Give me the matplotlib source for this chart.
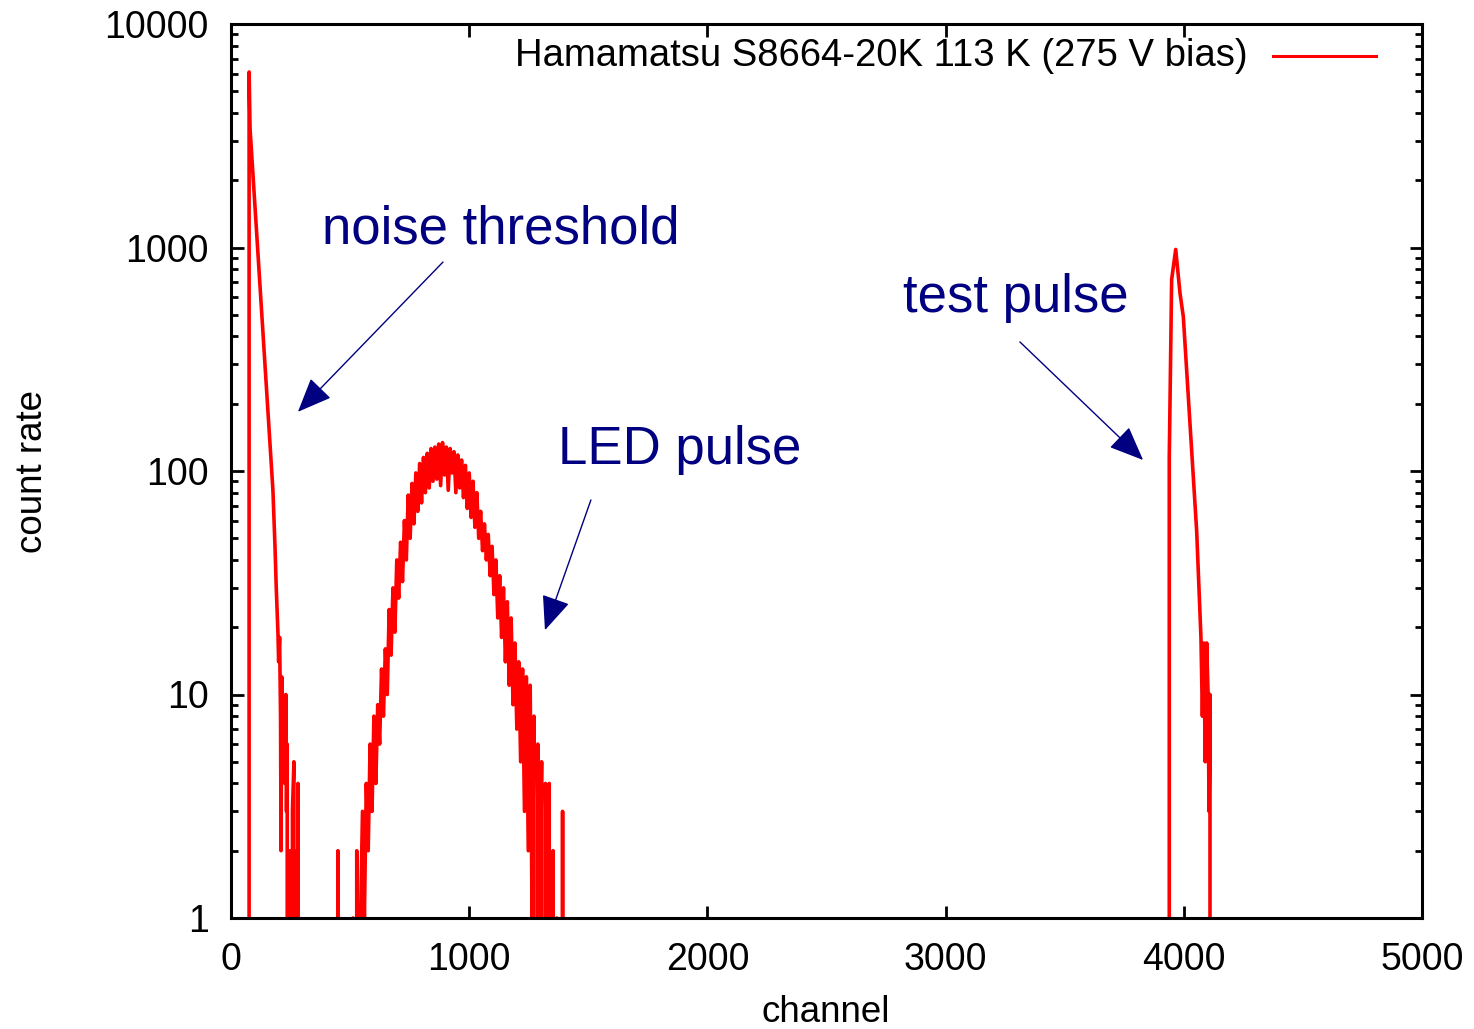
import numpy as np
import matplotlib
matplotlib.use("Agg")
import matplotlib.pyplot as plt
from matplotlib.ticker import LogLocator, NullFormatter

plt.rcParams['font.family'] = ['Liberation Sans', 'DejaVu Sans']

# MCA spectrum, Hamamatsu S8664-20K APD at 113 K
# noise edge + stray count near 450
noise_ch = [0, 60, 70, 76, 80, 176, 185, 190, 197, 200, 204, 208, 210, 213, 218,
            222, 226, 230, 233, 236, 239, 245, 250, 258, 264, 266, 270, 275, 281,
            284, 440, 449, 458]
noise_counts = [0, 0, 0, 6100, 3400, 82, 45, 30, 19, 14, 18, 8, 2, 12, 7,
                9, 4, 10, 3, 6, 0, 2, 0, 3, 5, 0, 2, 0, 4,
                0, 0, 2, 0]

# LED pulse, 8-channel bins from 504 to 1400
led_ch = list(range(504, 1408, 8))
led_counts = [0, 1, 0, 2, 0, 1, 3, 1, 4, 2,
              6, 3, 8, 4, 9, 6, 13, 8, 16, 10,
              24, 15, 30, 19, 40, 27, 48, 32, 60, 40,
              78, 50, 88, 58, 98, 66, 108, 72, 115, 80,
              120, 84, 126, 90, 128, 92, 132, 86, 134, 96,
              128, 82, 126, 98, 122, 80, 118, 84, 112, 76,
              106, 68, 98, 62, 90, 56, 80, 50, 66, 44,
              58, 40, 52, 34, 46, 28, 40, 22, 34, 18,
              30, 14, 26, 11, 22, 9, 17, 7, 14, 5,
              13, 3, 12, 2, 11, 1, 8, 0, 6, 1,
              5, 0, 4, 1, 4, 0, 2, 0, 1, 0,
              0, 3, 0]

# test pulse
test_ch = [3900, 3928, 3939, 3949, 3966, 3984, 3998, 4054, 4072, 4078, 4084,
           4090, 4096, 4102, 4106, 4110, 4116, 5000]
test_counts = [0, 0, 115, 720, 980, 625, 490, 54, 18, 8, 17,
               5, 17, 10, 3, 10, 0, 0]

channel = np.array(noise_ch + led_ch + test_ch, dtype=float)
counts = np.array(noise_counts + led_counts + test_counts, dtype=float)

navy = '#000080'

fig = plt.figure(figsize=(14.74, 10.29), dpi=100)
ax = fig.add_axes([231 / 1474, 111 / 1029, 1191 / 1474, 894 / 1029])

ax.plot(channel, counts, color='#ff0000', lw=2.6)
ax.set_yscale('log', nonpositive='clip')
ax.set_xlim(0, 5000)
ax.set_ylim(1, 10000)

ax.set_xticks([0, 1000, 2000, 3000, 4000, 5000])
ax.set_yticks([1, 10, 100, 1000, 10000])
ax.set_yticklabels(['1', '10', '100', '1000', '10000'])
ax.yaxis.set_minor_locator(LogLocator(base=10, subs=np.arange(2, 10)))
ax.yaxis.set_minor_formatter(NullFormatter())

for s in ax.spines.values():
    s.set_linewidth(2.2)
ax.tick_params(which='both', direction='in', top=True, right=True, width=2.0,
               labelsize=27, colors='black')
ax.tick_params(which='major', length=9)
ax.tick_params(which='minor', length=5)
ax.tick_params(axis='x', pad=17)
ax.tick_params(axis='y', pad=16)

fig.text(826 / 1474, 1 - 1013 / 1029, 'channel', fontsize=26.5,
         ha='center', va='center')
fig.text(33 / 1474, 1 - 472 / 1029, 'count rate', fontsize=26.5,
         rotation=90, ha='center', va='center')

# key, top right
ax.text(0.8539, 0.9642, 'Hamamatsu S8664-20K 113 K (275 V bias)',
        transform=ax.transAxes, fontsize=27.5, ha='right', va='center')
ax.plot([0.8749, 0.9614], [0.9642, 0.9642], transform=ax.transAxes,
        color='#ff0000', lw=2.2)

arrow = dict(arrowstyle='-|>,head_length=0.6,head_width=0.25',
             mutation_scale=36, color=navy, lw=1.0, shrinkA=0, shrinkB=0)

ax.text(382, 1047, 'noise threshold', color=navy, fontsize=38,
        ha='left', va='baseline')
ax.annotate('', xy=(281, 184), xytext=(890, 861), arrowprops=arrow)

ax.text(1373, 107, 'LED pulse', color=navy, fontsize=38,
        ha='left', va='baseline')
ax.annotate('', xy=(1318, 19.4), xytext=(1511, 74.2), arrowprops=arrow)

ax.text(2821, 514, 'test pulse', color=navy, fontsize=38,
        ha='left', va='baseline')
ax.annotate('', xy=(3829, 112), xytext=(3312, 378), arrowprops=arrow)

fig.savefig('out.png', dpi=100)
